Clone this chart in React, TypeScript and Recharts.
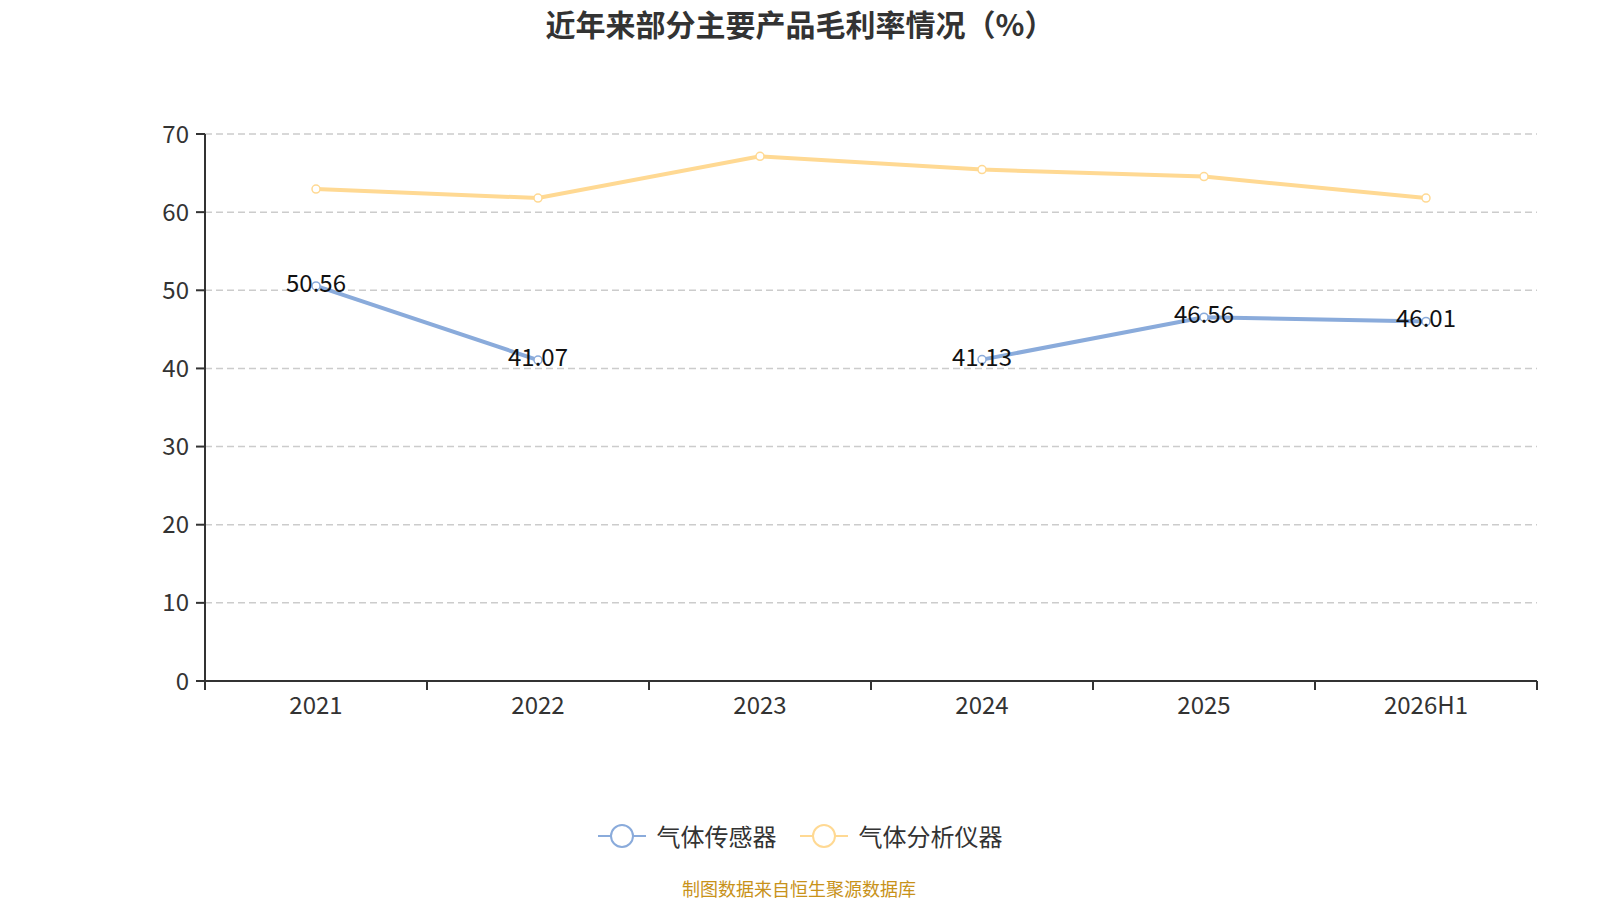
import React from 'react';
import { LineChart, Line, XAxis, YAxis, CartesianGrid, LabelList } from 'recharts';

const categories = ['2021', '2022', '2023', '2024', '2025', '2026H1'];
const sensorValues = [50.56, 41.07, null, 41.13, 46.56, 46.01];
const analyzerValues = [62.95, 61.8, 67.15, 65.45, 64.55, 61.8];
const yTicks = [0, 10, 20, 30, 40, 50, 60, 70];

const seriesNames = ['气体传感器', '气体分析仪器'];
const colors = ['#8aabdb', '#ffd993'];

const data = categories.map((c, i) => ({
  name: c,
  sensor: sensorValues[i],
  analyzer: analyzerValues[i],
}));

const FONT = '"Noto Sans CJK SC", "Noto Sans", sans-serif';
const CHART_W = 1600;
const CHART_H = 900;
const Y_AXIS_W = 60;
const X_AXIS_H = 40;
const margin = { top: 134, right: 63, left: 145, bottom: 179 };
const plotW = CHART_W - margin.left - Y_AXIS_W - margin.right;
const bandHalf = plotW / categories.length / 2;
const axisY = CHART_H - margin.bottom - X_AXIS_H;

// category label plus band-boundary tick marks
const XTick = (props: any) => {
  const { x, payload, index } = props;
  return (
    <g>
      {index === 0 && <line x1={x - bandHalf} x2={x - bandHalf} y1={axisY} y2={axisY + 9} stroke="#333" strokeWidth={2} />}
      <line x1={x + bandHalf} x2={x + bandHalf} y1={axisY} y2={axisY + 9} stroke="#333" strokeWidth={2} />
      <text x={x} y={axisY + 33} textAnchor="middle" fill="#333" fontSize={24} fontFamily={FONT}>
        {payload.value}
      </text>
    </g>
  );
};

const renderLabel = (props: any) => {
  const { x, y, value } = props;
  if (value == null) return null;
  return (
    <text x={x} y={y} dy={6} textAnchor="middle" fill="#111" fontSize={24} fontFamily={FONT}>
      {Number(value).toFixed(2)}
    </text>
  );
};

const LegendItem = ({ color, label, last }: { color: string; label: string; last?: boolean }) => (
  <div style={{ display: 'flex', alignItems: 'center', marginRight: last ? 0 : 23 }}>
    <svg width={48} height={26}>
      <line x1={0} x2={48} y1={13} y2={13} stroke={color} strokeWidth={2} />
      <circle cx={24} cy={13} r={11} fill="#fff" stroke={color} strokeWidth={2} />
    </svg>
    <span style={{ marginLeft: 11, fontSize: 24, color: '#333' }}>{label}</span>
  </div>
);

export default function App() {
  return (
    <div style={{ position: 'absolute', left: 0, top: 0, width: CHART_W, height: CHART_H, background: '#fff', fontFamily: FONT }}>
      <div style={{ position: 'absolute', top: 1, left: 0, width: '100%', textAlign: 'center', fontSize: 30, fontWeight: 'bold', color: '#333' }}>
        近年来部分主要产品毛利率情况（%）
      </div>
      <LineChart width={CHART_W} height={CHART_H} data={data} margin={margin}>
        <CartesianGrid vertical={false} stroke="#cccccc" strokeDasharray="7 4" strokeWidth={1.5} />
        <XAxis
          dataKey="name"
          axisLine={{ stroke: '#333', strokeWidth: 2 }}
          tickLine={false}
          tick={<XTick />}
          interval={0}
          height={X_AXIS_H}
          padding={{ left: bandHalf, right: bandHalf }}
        />
        <YAxis
          domain={[0, 70]}
          ticks={yTicks}
          width={Y_AXIS_W}
          axisLine={{ stroke: '#333', strokeWidth: 2 }}
          tickLine={{ stroke: '#333', strokeWidth: 2 }}
          tickSize={9}
          tickMargin={7}
          tick={{ fill: '#333', fontSize: 24, fontFamily: FONT }}
        />
        <Line
          dataKey="analyzer"
          stroke={colors[1]}
          strokeWidth={4}
          dot={{ r: 4, fill: '#fff', stroke: colors[1], strokeWidth: 1.5 }}
          isAnimationActive={false}
        />
        <Line
          dataKey="sensor"
          stroke={colors[0]}
          strokeWidth={4}
          dot={{ r: 4, fill: '#fff', stroke: colors[0], strokeWidth: 1.5 }}
          isAnimationActive={false}
        >
          <LabelList dataKey="sensor" content={renderLabel} />
        </Line>
      </LineChart>
      <div style={{ position: 'absolute', top: 818, left: 0, width: '100%', display: 'flex', justifyContent: 'center' }}>
        <LegendItem color={colors[0]} label={seriesNames[0]} />
        <LegendItem color={colors[1]} label={seriesNames[1]} last />
      </div>
      <div style={{ position: 'absolute', top: 875, left: -1, width: '100%', textAlign: 'center', fontSize: 18, color: '#c8921a' }}>
        制图数据来自恒生聚源数据库
      </div>
    </div>
  );
}
